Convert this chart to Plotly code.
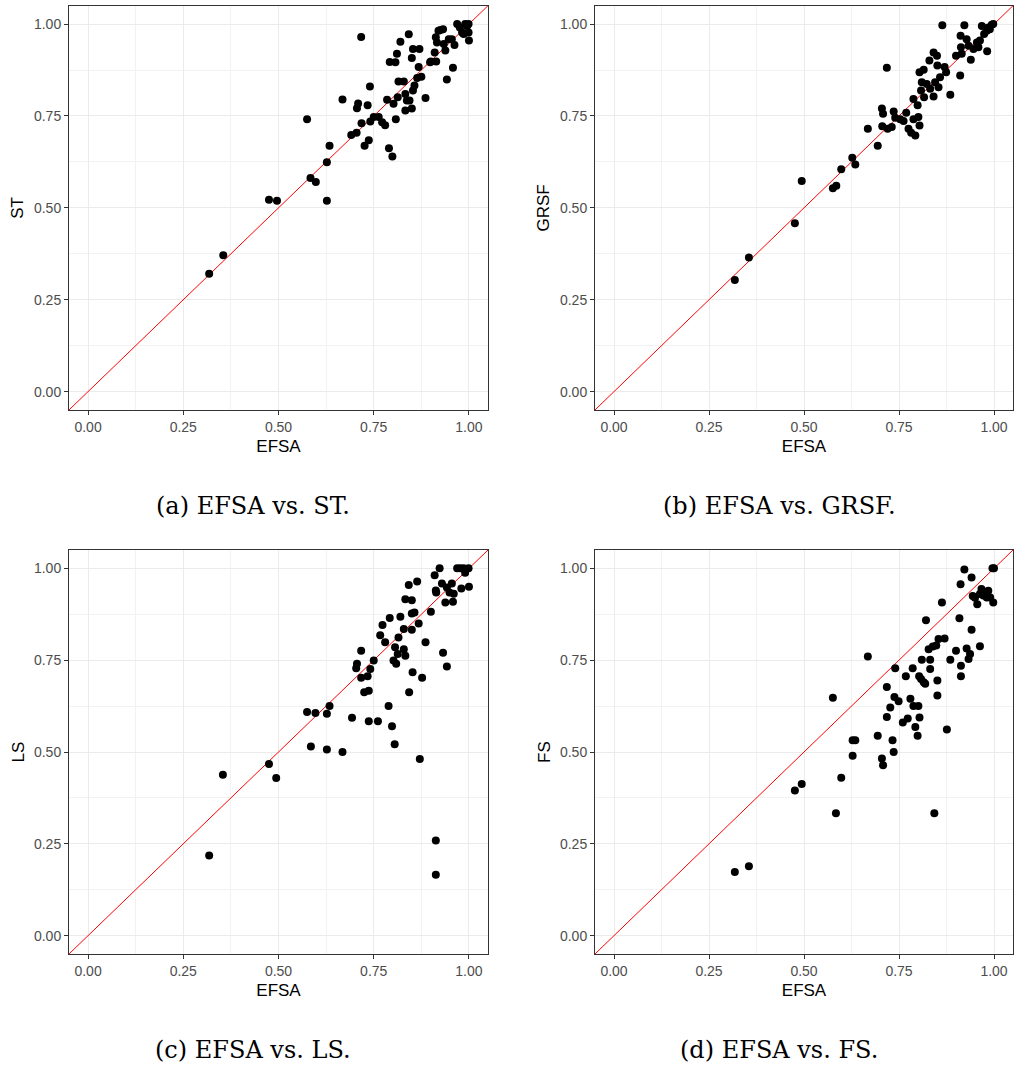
import plotly.graph_objects as go

# ---------------- data ----------------
efsa_st = [0.318, 0.355, 0.475, 0.496, 0.575, 0.584, 0.598, 0.627, 0.627, 0.634,
           0.668, 0.691, 0.705, 0.706, 0.709, 0.717, 0.718, 0.726, 0.734, 0.737,
           0.740, 0.741, 0.750, 0.763, 0.772, 0.780, 0.785, 0.790, 0.792, 0.799,
           0.802, 0.807, 0.808, 0.811, 0.813, 0.815, 0.820, 0.829, 0.833, 0.833,
           0.837, 0.842, 0.844, 0.850, 0.850, 0.853, 0.853, 0.857, 0.864, 0.868,
           0.870, 0.875, 0.886, 0.900, 0.910, 0.913, 0.914, 0.916, 0.925, 0.932,
           0.934, 0.938, 0.942, 0.947, 0.955, 0.958, 0.962, 0.969, 0.976, 0.982,
           0.986, 0.990, 0.995, 0.999, 0.999, 1.000, 0.898, 0.920]
st = [0.321, 0.371, 0.522, 0.519, 0.741, 0.581, 0.570, 0.624, 0.519, 0.669,
      0.795, 0.698, 0.704, 0.771, 0.784, 0.965, 0.730, 0.669, 0.779, 0.684,
      0.830, 0.735, 0.747, 0.747, 0.733, 0.725, 0.794, 0.662, 0.897, 0.640,
      0.783, 0.896, 0.741, 0.919, 0.801, 0.844, 0.952, 0.844, 0.810, 0.765,
      0.792, 0.972, 0.792, 0.770, 0.908, 0.932, 0.819, 0.833, 0.853, 0.883,
      0.932, 0.857, 0.799, 0.898, 0.923, 0.964, 0.898, 0.950, 0.984, 0.986,
      0.946, 0.928, 0.849, 0.959, 0.959, 0.881, 0.943, 1.000, 0.991, 0.977,
      0.973, 1.000, 0.995, 1.000, 0.977, 0.955, 0.896, 0.982]

efsa_grsf = [0.318, 0.355, 0.476, 0.494, 0.576, 0.585, 0.598, 0.627, 0.635, 0.668,
             0.694, 0.705, 0.708, 0.706, 0.718, 0.720, 0.731, 0.736, 0.740, 0.753,
             0.762, 0.769, 0.775, 0.782, 0.788, 0.788, 0.793, 0.799, 0.801, 0.804,
             0.804, 0.808, 0.810, 0.815, 0.816, 0.823, 0.830, 0.832, 0.841, 0.841,
             0.845, 0.850, 0.851, 0.854, 0.858, 0.864, 0.870, 0.874, 0.885, 0.900,
             0.911, 0.912, 0.913, 0.915, 0.922, 0.928, 0.933, 0.939, 0.946, 0.955,
             0.959, 0.963, 0.968, 0.974, 0.981, 0.982, 0.985, 0.989, 0.994, 0.998]
grsf = [0.304, 0.365, 0.458, 0.573, 0.553, 0.560, 0.605, 0.636, 0.618, 0.715,
        0.669, 0.770, 0.756, 0.722, 0.881, 0.715, 0.720, 0.762, 0.745, 0.741,
        0.736, 0.759, 0.715, 0.704, 0.796, 0.741, 0.697, 0.779, 0.747, 0.724,
        0.869, 0.819, 0.842, 0.876, 0.801, 0.837, 0.901, 0.824, 0.923, 0.803,
        0.842, 0.914, 0.887, 0.828, 0.855, 0.997, 0.883, 0.869, 0.808, 0.914,
        0.860, 0.968, 0.937, 0.919, 0.997, 0.959, 0.941, 0.903, 0.932, 0.950,
        0.937, 0.955, 0.995, 0.973, 0.982, 0.926, 0.991, 0.986, 0.998, 1.000]

efsa_ls = [0.318, 0.354, 0.475, 0.494, 0.575, 0.585, 0.597, 0.627, 0.627, 0.634,
           0.668, 0.693, 0.706, 0.704, 0.717, 0.717, 0.725, 0.737, 0.737, 0.734,
           0.741, 0.750, 0.761, 0.767, 0.773, 0.780, 0.789, 0.792, 0.798, 0.802,
           0.805, 0.809, 0.806, 0.815, 0.820, 0.813, 0.829, 0.833, 0.829, 0.833,
           0.842, 0.843, 0.850, 0.850, 0.850, 0.852, 0.857, 0.864, 0.868, 0.871,
           0.877, 0.886, 0.900, 0.910, 0.913, 0.914, 0.913, 0.913, 0.923, 0.929,
           0.932, 0.938, 0.942, 0.942, 0.949, 0.955, 0.958, 0.960, 0.969, 0.977,
           0.980, 0.986, 0.990, 0.999, 1.000]
ls = [0.218, 0.438, 0.467, 0.429, 0.609, 0.515, 0.606, 0.604, 0.507, 0.625,
      0.500, 0.593, 0.740, 0.728, 0.776, 0.702, 0.663, 0.667, 0.584, 0.706,
      0.726, 0.749, 0.584, 0.818, 0.846, 0.799, 0.625, 0.865, 0.570, 0.749,
      0.521, 0.740, 0.785, 0.812, 0.868, 0.767, 0.835, 0.762, 0.780, 0.916,
      0.955, 0.663, 0.913, 0.877, 0.833, 0.717, 0.880, 0.964, 0.850, 0.481,
      0.702, 0.799, 0.882, 0.981, 0.940, 0.934, 0.259, 0.166, 1.000, 0.959,
      0.770, 0.907, 0.733, 0.948, 0.934, 0.959, 0.909, 0.931, 1.000, 1.000,
      0.945, 1.000, 0.988, 1.000, 0.950]

efsa_fs = [0.318, 0.355, 0.476, 0.494, 0.576, 0.584, 0.598, 0.628, 0.635, 0.628,
           0.668, 0.694, 0.705, 0.708, 0.718, 0.718, 0.727, 0.733, 0.736, 0.738,
           0.740, 0.749, 0.760, 0.768, 0.773, 0.780, 0.786, 0.788, 0.793, 0.799,
           0.801, 0.804, 0.803, 0.808, 0.810, 0.815, 0.819, 0.821, 0.828, 0.832,
           0.832, 0.839, 0.843, 0.848, 0.851, 0.851, 0.854, 0.863, 0.870, 0.876,
           0.885, 0.900, 0.909, 0.912, 0.913, 0.913, 0.922, 0.928, 0.933, 0.937,
           0.941, 0.941, 0.944, 0.950, 0.956, 0.963, 0.963, 0.967, 0.972, 0.979,
           0.985, 0.981, 0.990, 0.998, 0.996, 1.000]
fs = [0.173, 0.189, 0.395, 0.413, 0.648, 0.333, 0.430, 0.532, 0.532, 0.490,
      0.760, 0.544, 0.482, 0.464, 0.677, 0.595, 0.621, 0.532, 0.500, 0.650,
      0.728, 0.638, 0.580, 0.706, 0.591, 0.645, 0.728, 0.625, 0.568, 0.544,
      0.625, 0.594, 0.706, 0.699, 0.751, 0.690, 0.686, 0.859, 0.780, 0.751,
      0.726, 0.787, 0.333, 0.790, 0.695, 0.654, 0.808, 0.907, 0.809, 0.561,
      0.751, 0.776, 0.864, 0.957, 0.735, 0.706, 0.997, 0.782, 0.753, 0.767,
      0.975, 0.833, 0.925, 0.920, 0.902, 0.788, 0.930, 0.944, 0.926, 0.935,
      0.939, 0.921, 0.921, 0.907, 1.000, 1.000]

panels = [
    ("EFSA", "ST", efsa_st, st, "(a) EFSA vs. ST."),
    ("EFSA", "GRSF", efsa_grsf, grsf, "(b) EFSA vs. GRSF."),
    ("EFSA", "LS", efsa_ls, ls, "(c) EFSA vs. LS."),
    ("EFSA", "FS", efsa_fs, fs, "(d) EFSA vs. FS."),
]
tick_vals = [0, 0.25, 0.5, 0.75, 1.0]
tick_text = ["0.00", "0.25", "0.50", "0.75", "1.00"]
AXIS_RANGE = [-0.05, 1.05]

# ---------------- layout geometry ----------------
W, H = 1014, 1073
x_domains = [[69 / W, 488 / W], [595 / W, 1013 / W]]
y_domains = [[1 - 410 / H, 1 - 5.7 / H], [1 - 954 / H, 1 - 550 / H]]
caption_x = [253 / W, 779 / W]
caption_y = [1 - 506 / H, 1 - 1050 / H]

TICK_FONT = dict(family="Liberation Sans, Arial, sans-serif", size=14, color="#4D4D4D")
TITLE_FONT = dict(family="Liberation Sans, Arial, sans-serif", size=17, color="#000000")

fig = go.Figure()
annotations = []
for i, (xl, yl, xs, ys, cap) in enumerate(panels):
    r, c = divmod(i, 2)
    n = "" if i == 0 else str(i + 1)
    xa, ya = "x" + n, "y" + n
    fig.add_trace(go.Scatter(
        x=AXIS_RANGE, y=AXIS_RANGE, mode="lines",
        line=dict(color="#FF0000", width=1),
        xaxis=xa, yaxis=ya, showlegend=False, hoverinfo="skip"))
    fig.add_trace(go.Scatter(
        x=xs, y=ys, mode="markers",
        marker=dict(color="black", size=8),
        xaxis=xa, yaxis=ya, showlegend=False))
    common = dict(
        range=AXIS_RANGE, tickmode="array", tickvals=tick_vals, ticktext=tick_text,
        showgrid=True, gridcolor="#EBEBEB", gridwidth=1.2,
        minor=dict(showgrid=True, gridcolor="#F2F2F2", gridwidth=0.8,
                   tickmode="array", tickvals=[0.125, 0.375, 0.625, 0.875]),
        zeroline=False, showline=True, mirror=True, linecolor="#333333", linewidth=1,
        ticks="outside", ticklen=4, tickcolor="#333333", tickwidth=1,
        tickfont=TICK_FONT, fixedrange=True,
    )
    fig.update_layout({
        ("xaxis" + n): dict(common, domain=x_domains[c], anchor=ya,
                            title=dict(text=xl, font=TITLE_FONT, standoff=6)),
        ("yaxis" + n): dict(common, domain=y_domains[r], anchor=xa,
                            title=dict(text=yl, font=TITLE_FONT, standoff=5)),
    })
    annotations.append(dict(
        text=cap, x=caption_x[c], y=caption_y[r], xref="paper", yref="paper",
        xanchor="center", yanchor="middle", showarrow=False,
        font=dict(family="DejaVu Serif, serif", size=24, color="#000000")))

fig.update_layout(
    width=W, height=H, margin=dict(l=0, r=0, t=0, b=0),
    paper_bgcolor="white", plot_bgcolor="white",
    annotations=annotations, showlegend=False,
)
fig.write_html("out.html")
